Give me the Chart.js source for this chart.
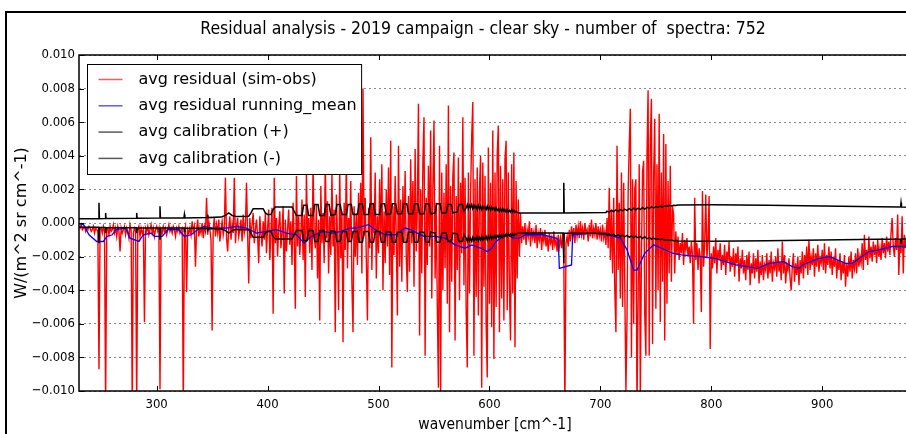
<!DOCTYPE html>
<html>
<head>
    <title>Residual analysis</title>
    <script src="https://cdn.jsdelivr.net/npm/chart.js@4.4.1/dist/chart.umd.min.js"></script>
    <style>
        html, body { margin: 0; padding: 0; overflow: hidden; background: #fff; }
        #wrap { position: relative; width: 906px; height: 434px; overflow: hidden; }
        #figFrame { position: absolute; left: 5px; top: 11px; width: 960px; height: 430px;
                    border-left: 2px solid #000; border-top: 2px solid #000; pointer-events: none; }
        canvas { position: absolute; left: 0; top: 0; }
    </style>
</head>
<body>
<div id="wrap">
    <canvas id="residualCanvas" width="966" height="434"></canvas>
    <div id="figFrame"></div>
</div>
<script>

// all spectral values in units of 1e-4 W/(m^2 sr cm^-1)
const UNIT = 1e-4;

// avg residual (sim-obs), one sample per cm^-1 starting at 230 cm^-1
const redStart = 230;
const redStep = 1;
const redVals = [
    // 230
    -2, -3, -1, -4, -3, -2, -5, -3, -4, -2, -3, -5, -4, -2, -6, -3, -4, -5, -87, -4,
    -3, -6, -2, -5, -110, -4, -3, -7, -2, -5, -4, -1, -6, -3, -8, -2, -5, -17, -3, -6,
    -4, -2, -7, -3, -5, -9, -1, -4, -110, -6,
    // 280
    -3, -5, -110, -4, -2, -8, -3, -6, -4, -59, -3, -5, -2, -7, -4, -1, -6, -3, -8, -4,
    -2, -5, -3, -99, -4, -6, -2, -5, -3, -7, -4, -1, -5, -3, -6, -2, -4, -8, -3, -5,
    -2, -6, -4, -3, -110, -5, -2, -41, -4, -6,
    // 330
    -3, -7, 1, -5, -2, -26, -4, 2, -8, -3, -6, 0, -9, -2, -5, 15, -7, 1, -4, -10,
    -64, -3, 3, -8, -1, -6, 2, -11, -4, 1, -7, -2, 27, -9, -17, -3, 4, -10, -1, -6,
    27, -12, -2, 3, -8, -4, 2, -11, 5, -6,
    // 380
    -2, 24, -7, -36, 3, -9, -1, 6, -12, -4, 2, -8, -24, 4, -6, -14, 1, -10, 6, -18,
    -3, 8, -22, -5, 9, -54, 27, -12, 3, -20, -2, 7, -15, -6, 10, -42, 2, -17, -4, 8,
    -13, 1, -25, 12, -9, -51, 28, -14, 4, -19,
    // 430
    -6, 14, -22, 5, -44, 31, -10, 3, -18, 9, -28, 36, -7, -15, 11, -33, 2, -58, 22, -12,
    6, -24, 38, -9, 13, -30, 4, -19, 29, -14, 8, -65, 17, -8, -52, 33, -21, 7, -71, 12,
    -16, 40, -27, 3, -11, 25, -36, -65, 10, -20,
    // 480
    6, -25, 18, -12, 24, -30, 80, -8, 15, -22, -58, 9, -15, 51, -28, 12, -6, 30, -33, 4,
    -18, 26, -10, 35, -40, 7, -24, 20, -14, 33, -31, 49, -86, 10, -19, 28, -9, -55, 46, -26,
    14, -35, 22, -11, 31, -20, -41, 16, -29, 38,
    // 530
    -12, 25, -38, 44, -17, 9, 71, -67, 20, -30, 37, 63, -79, 15, -25, 34, -14, 55, -45, 21,
    61, -33, 12, -50, -98, 46, -100, 30, -40, 18, -27, 35, -48, 70, -65, 22, -35, 28, 42, -70,
    16, -28, 39, -46, 24, -18, 63, -37, 27, -52,
    // 580
    -86, 30, -42, 18, 52, 72, -79, 26, -44, 33, -55, 20, 40, -98, 36, -38, 28, -60, -92, 45,
    -48, 24, -62, 55, -81, 30, -50, 41, 58, -65, 34, -45, 26, -58, 38, 49, -52, 30, -40, -70,
    35, -42, 42, -74, 25, -33, 14, -20, 6, -12,
    // 630
    -2, -10, 0, -13, -4, -8, 1, -14, -3, -9, -5, -12, -1, -15, -6, -10, -3, -16, -7, -11,
    -4, -14, -8, -17, -6, -12, -9, -16, -5, -13, -10, -17, -7, -14, -9, -15, -6, -20, -110, -12,
    -8, -14, -4, -11, -2, -9, -3, -12, -1, -8,
    // 680
    -2, -9, 1, -7, -3, -10, 0, -6, -4, -11, -1, -8, 2, -9, -3, -7, 0, -10, -2, -8,
    -4, -11, -1, -9, -5, -13, 3, -15, 21, -22, 8, -30, 15, -40, -65, 46, -28, 12, -45, 30,
    -50, 24, -38, -100, -58, 18, 46, 68, -80, 26,
    // 730
    -60, 20, 26, -110, -45, 35, -105, -20, 30, 37, -55, -79, 40, 79, -79, 50, 74, -72, 28, 62,
    -51, 35, -40, 65, -59, 30, -35, 53, -70, 47, -48, 25, -30, 34, -35, 10, 5, -30, -5, -19,
    -8, -22, -12, -18, -6, -25, -10, -16, -9, -20,
    // 780
    -14, -24, -11, -19, -60, 15, -22, -12, -28, -15, -20, -53, 19, -26, -13, 17, -21, -10, 16, -75,
    -18, -27, -14, -24, -9, -30, -16, -22, -12, -28, -19, -25, -13, -31, -17, -23, -11, -29, -20, -26,
    -15, -32, -18, -24, -14, -35, -21, -27, -16, -30,
    // 830
    -22, -34, -19, -28, -17, -37, -24, -30, -18, -33, -21, -29, -16, -36, -23, -31, -19, -34, -25, -28,
    -18, -33, -22, -30, -17, -35, -24, -27, -20, -32, -15, -29, -23, -34, -11, -30, -19, -36, -25, -28,
    -21, -33, -40, -26, -18, -35, -24, -31, -20, -37,
    // 880
    -22, -30, -17, -33, -19, -27, -14, -31, -10, -28, -20, -25, -15, -32, -18, -26, -13, -29, -21, -24,
    -16, -28, -12, -30, -19, -25, -14, -27, -17, -31, -20, -26, -15, -33, -22, -28, -18, -34, -23, -30,
    -19, -38, -24, -32, -20, -29, -17, -33, -22, -27,
    // 930
    -18, -30, -15, -26, -20, -24, -12, -28, -7, -22, -16, -25, -8, -21, -14, -23, -11, -19, -13, -24,
    -10, -20, -15, -22, -9, -18, -12, -21, -8, -17, -11, -19, -6, 3, -14, -20, -9, -16, 5, -31,
    -10, -18, 4, -30, -7, -15, -9, -13, -11, -16, -12
];

// avg residual running_mean
const meanWn = [230, 234, 239, 246, 252, 255, 260, 263, 272, 276, 284, 288, 295, 298, 305, 310, 320, 325, 331, 337,
    343, 350, 356, 363, 372, 381, 390, 399, 408, 417, 426, 433, 439, 450, 459, 466, 474, 480, 491, 497,
    506, 515, 524, 529, 535, 541, 551, 560, 569, 578, 584, 592, 598, 602, 606, 612, 617, 621, 627, 633,
    648, 660, 662, 663, 674, 675, 694, 706, 718, 724, 730, 733, 740, 748, 755, 765, 773, 790, 803, 823,
    842, 852, 865, 873, 879, 882, 897, 907, 921, 927, 942, 951, 963, 980];
const meanVals = [-0.5, -1, -7, -11, -11, -8, -7, -4, -3, -9, -11, -7, -6, -8, -8, -4, -4, -8, -7, -4,
    -2, -3, -3, -3, -2, -3, -6, -5, -4, -6, -7, -12, -8, -5, -6, -5, -3, -3, -1, -4,
    -7, -7, -3, -4, -6, -8, -8, -9, -13, -15, -13, -15, -17, -15, -11, -8, -7, -9, -9, -7,
    -7, -9, -10, -27, -25, -7, -6, -7, -9, -16, -28, -28, -18, -13, -15, -18, -19, -20, -21, -25,
    -27, -24, -23, -26, -27, -25, -21, -20, -24, -24, -17, -16, -14, -14];

// avg calibration, plotted as (+) and (-)
const calWn = [230, 246, 247.6, 248, 248.4, 253.6, 254, 254.4, 281.6, 282, 282.4, 302.6, 303, 303.4,
    324.6, 325, 325.4, 345.6, 346, 346.4, 358, 362, 365, 368, 372, 383, 385, 387, 396, 398,
    400, 403, 405, 407, 422, 424, 426, 430,
    431, 432.5, 435.5, 437, 441, 442.5, 445.5, 447, 451, 452.5, 455.5, 457, 461, 462.5, 465.5, 467,
    471, 472.5, 475.5, 477, 481, 482.5, 485.5, 487, 491, 492.5, 495.5, 497, 501, 502.5, 505.5, 507,
    511, 512.5, 515.5, 517, 521, 522.5, 525.5, 527, 531, 532.5, 535.5, 537, 541, 542.5, 545.5, 547,
    551, 552.5, 555.5, 557, 561, 562.5, 565.5, 567, 571, 572.5, 575.5, 577,
    579, 580, 581, 582, 583, 584, 585, 586, 587, 588, 589, 590, 591, 592, 593, 594, 595, 596, 597, 598,
    599, 600, 601, 602, 603, 604, 605, 606, 607, 608, 609, 610, 611, 612, 613, 614, 615, 616, 617, 618,
    619, 620, 621, 622, 623, 624, 625, 627, 666.6, 667, 667.4, 705,
    706, 708, 710, 712, 714, 716, 718, 720, 722, 724, 726, 728, 730, 732, 734, 736, 738, 740, 742, 744,
    746, 748, 750, 752, 754, 756, 758, 760, 762, 764, 766, 768, 770,
    800, 850, 900, 950, 970.6, 971, 971.4, 980];
const calVals = [2.5, 2.6, 2.6, 12, 2.6, 2.7, 6, 2.7, 2.8, 6, 2.8, 3, 10, 3,
    3, 5, 3, 3.2, 5, 3.2, 3.5, 4.5, 6, 4.5, 3.8, 4, 6, 8.5, 8.5, 6,
    5, 5, 8, 9.5, 9.5, 7, 4.5, 4.5,
    4.5, 10.5, 10.5, 4.5, 4.5, 11, 11, 4.5, 4.5, 11, 11, 4.5, 5, 11, 11, 5,
    5, 11, 11, 5, 5, 11.5, 11.5, 5, 5, 11.5, 11.5, 5, 5, 11.5, 11.5, 5,
    5.5, 11.5, 11.5, 5.5, 5.5, 11.5, 11.5, 5.5, 5.5, 11.5, 11.5, 5.5, 5.5, 11.5, 11.5, 5.5,
    6, 11.5, 11.5, 6, 6, 11, 11, 6, 6.5, 11, 11, 7,
    9, 11, 8.5, 10.5, 9, 11, 8.5, 10.5, 9, 10, 8, 10.5, 8.5, 10, 8, 10, 8.5, 9.5, 8, 10,
    8, 9.5, 7.5, 9.5, 8, 9, 7.5, 9, 7.5, 8.5, 7, 8.5, 7, 8.5, 7, 8, 6.5, 8, 6.5, 7.5,
    6.5, 8, 6.5, 7.5, 6.5, 7, 6.2, 6, 6, 24, 6, 6.2,
    7, 6.5, 7.5, 6.8, 7.8, 7, 8, 7.2, 8.2, 7.4, 8.5, 7.6, 8.8, 7.8, 8.8, 8, 9.2, 8.2, 9.4, 8.6,
    9.6, 9, 9.8, 9.4, 10, 9.6, 10.2, 10, 10.4, 10.2, 10.6, 10.4, 10.7,
    10.8, 10.6, 10.1, 9.7, 9.5, 12, 9.5, 9.4];

const xTicks = [300, 400, 500, 600, 700, 800, 900];
const yTicks = [-0.010, -0.008, -0.006, -0.004, -0.002, 0, 0.002, 0.004, 0.006, 0.008, 0.010];
const titleText = 'Residual analysis - 2019 campaign - clear sky - number of  spectra: 752';

const residualPoints = redVals.map((v, i) => ({ x: redStart + i * redStep, y: v * UNIT }));
const meanPoints = meanWn.map((w, i) => ({ x: w, y: meanVals[i] * UNIT }));
const calPlus = calWn.map((w, i) => ({ x: w, y: calVals[i] * UNIT }));
const calMinus = calWn.map((w, i) => ({ x: w, y: -calVals[i] * UNIT }));

// figure title, centred on the whole figure rather than the axes
const figTitle = {
    id: 'figTitle',
    afterDraw(chart) {
        const { ctx } = chart;
        ctx.save();
        ctx.font = '17.5px "DejaVu Sans Condensed"';
        ctx.fillStyle = '#000';
        ctx.textAlign = 'center';
        ctx.textBaseline = 'middle';
        ctx.fillText(titleText, chart.width / 2, 29);
        ctx.restore();
    }
};

// axes frame plus matplotlib-style inward ticks on every side
const frameTicks = {
    id: 'frameTicks',
    afterDatasetsDraw(chart) {
        const { ctx, chartArea: a, scales } = chart;
        ctx.save();
        ctx.strokeStyle = '#000';
        ctx.lineWidth = 1;
        ctx.beginPath();
        scales.x.ticks.forEach(t => {
            const px = Math.round(scales.x.getPixelForValue(t.value)) + 0.5;
            ctx.moveTo(px, a.bottom); ctx.lineTo(px, a.bottom - 5);
            ctx.moveTo(px, a.top); ctx.lineTo(px, a.top + 5);
        });
        scales.y.ticks.forEach(t => {
            const py = Math.round(scales.y.getPixelForValue(t.value)) + 0.5;
            ctx.moveTo(a.left, py); ctx.lineTo(a.left + 5, py);
            ctx.moveTo(a.right, py); ctx.lineTo(a.right - 5, py);
        });
        ctx.stroke();
        ctx.lineWidth = 1.5;
        ctx.strokeRect(a.left, a.top, a.right - a.left, a.bottom - a.top);
        ctx.restore();
    }
};

// framed legend drawn on top of the curves
const boxedLegend = {
    id: 'boxedLegend',
    afterDraw(chart) {
        const { ctx, chartArea: a } = chart;
        const sets = chart.data.datasets;
        ctx.save();
        ctx.font = '16px "DejaVu Sans"';
        const textW = Math.max(...sets.map(d => ctx.measureText(d.label).width));
        const x0 = a.left + 8.5, y0 = a.top + 9.5;
        const rowH = 26.3;
        const w = 51 + textW + 5, h = 110;
        ctx.fillStyle = '#fff';
        ctx.fillRect(x0, y0, w, h);
        ctx.strokeStyle = '#000';
        ctx.lineWidth = 1;
        ctx.strokeRect(x0, y0, w, h);
        ctx.textBaseline = 'middle';
        sets.forEach((d, i) => {
            const y = y0 + 15 + i * rowH;
            ctx.globalAlpha = 0.65;
            ctx.strokeStyle = d.borderColor;
            ctx.lineWidth = 1.5;
            ctx.beginPath();
            ctx.moveTo(x0 + 11, y); ctx.lineTo(x0 + 35, y);
            ctx.stroke();
            ctx.globalAlpha = 1;
            ctx.fillStyle = '#000';
            ctx.fillText(d.label, x0 + 51, y);
        });
        ctx.restore();
    }
};

const ctx = document.getElementById('residualCanvas').getContext('2d');

new Chart(ctx, {
    type: 'line',
    data: {
        datasets: [
            { label: 'avg residual (sim-obs)', data: residualPoints, borderColor: '#ff0000', borderWidth: 1.4, order: 4 },
            { label: 'avg residual running_mean', data: meanPoints, borderColor: '#0000ff', borderWidth: 1.3, order: 3 },
            { label: 'avg calibration (+)', data: calPlus, borderColor: '#000000', borderWidth: 1.5, order: 2 },
            { label: 'avg calibration (-)', data: calMinus, borderColor: '#000000', borderWidth: 1.5, order: 1 }
        ]
    },
    options: {
        responsive: false,
        animation: false,
        devicePixelRatio: 1,
        parsing: false,
        normalized: true,
        elements: { point: { radius: 0 }, line: { tension: 0 } },
        layout: { padding: { left: 0, right: 55, top: 55, bottom: 0 } },
        plugins: {
            legend: { display: false },
            tooltip: { enabled: false },
            title: { display: false }
        },
        scales: {
            x: {
                type: 'linear',
                min: 230,
                max: 980,
                afterFit: s => { s.height = 43; },
                afterBuildTicks: s => { s.ticks = xTicks.map(v => ({ value: v })); },
                grid: { display: false, drawTicks: false },
                border: { display: false },
                ticks: {
                    color: '#000',
                    padding: 6,
                    font: { family: 'DejaVu Sans Condensed', size: 13 },
                    callback: v => String(v)
                },
                title: {
                    display: true,
                    text: 'wavenumber [cm^-1]',
                    color: '#000',
                    font: { family: 'DejaVu Sans Condensed', size: 15.5 },
                    padding: { top: 0, bottom: 0 }
                }
            },
            y: {
                min: -0.010,
                max: 0.010,
                afterFit: s => { s.width = 79; },
                afterBuildTicks: s => { s.ticks = yTicks.map(v => ({ value: v })); },
                grid: { color: '#8a8a8a', lineWidth: 1, drawTicks: false },
                border: { display: false, dash: [2, 3] },
                ticks: {
                    color: '#000',
                    padding: 4,
                    font: { family: 'DejaVu Sans Condensed', size: 13 },
                    callback: v => {
                        const s = Math.abs(v).toFixed(3);
                        return v < -1e-9 ? '\u2212' + s : s;
                    }
                },
                title: {
                    display: true,
                    text: 'W/(m^2 sr cm^-1)',
                    color: '#000',
                    font: { family: 'DejaVu Sans', size: 16 },
                    padding: { top: 12, bottom: 0 }
                }
            }
        }
    },
    plugins: [frameTicks, boxedLegend, figTitle]
});

</script>
</body>
</html>
